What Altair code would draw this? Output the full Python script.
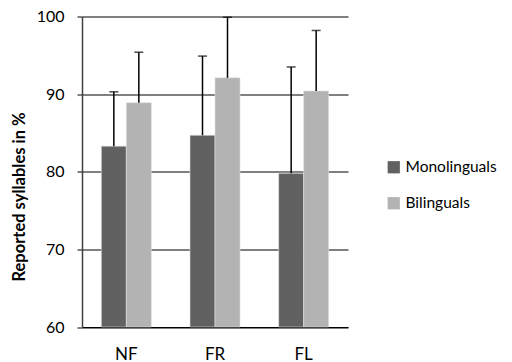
import altair as alt
import pandas as pd

categories = ["NF", "FR", "FL"]
groups = ["Monolinguals", "Bilinguals"]
mono_values = [83.3, 84.7, 79.8]
bili_values = [88.9, 92.1, 90.4]
mono_err_top = [90.3, 94.9, 93.5]
bili_err_top = [95.4, 99.9, 98.2]
y_ticks = [60, 70, 80, 90, 100]
y_min, y_max = 60, 100

rows = []
for i, c in enumerate(categories):
    rows.append({"cat": c, "grp": groups[0], "val": mono_values[i], "top": mono_err_top[i]})
    rows.append({"cat": c, "grp": groups[1], "val": bili_values[i], "top": bili_err_top[i]})
df = pd.DataFrame(rows)

FONT = "Lato"

xaxis = alt.Axis(labelAngle=0, ticks=False, domain=True, domainColor="#000000",
                 labelFontSize=17, labelFont=FONT, labelColor="#000000", labelPadding=19)
x = alt.X("cat:N", sort=categories, title=None,
          scale=alt.Scale(paddingInner=0.436, paddingOuter=0.218), axis=xaxis)
xoff = alt.XOffset("grp:N", sort=groups, scale=alt.Scale(paddingInner=0, paddingOuter=0))
y = alt.Y("val:Q", scale=alt.Scale(domain=[y_min, y_max], nice=False, zero=False),
          axis=alt.Axis(values=y_ticks, title="Reported syllables in %", titleFont=FONT,
                        titleFontSize=16.5, titleFontWeight="bold", titleColor="#000000",
                        titleX=-63, titleY=180, titleBaseline="middle", titleAngle=270,
                        labelFont=FONT, labelFontSize=16, labelColor="#000000",
                        grid=True, gridColor="#000000", gridWidth=1, tickSize=5,
                        tickColor="#000000", domainColor="#404040", domainWidth=1.5,
                        labelPadding=13))

bars = alt.Chart(df).mark_bar(stroke="#e0e0e0", strokeWidth=0.6).encode(
    x=x, xOffset=xoff, y=y, y2=alt.datum(y_min),
    color=alt.Color("grp:N", sort=groups,
                    scale=alt.Scale(domain=groups, range=["#616161", "#b3b3b3"]),
                    legend=alt.Legend(title=None, orient="none", legendX=304, legendY=143,
                                      symbolType="square", symbolSize=150, symbolStrokeWidth=0,
                                      labelFont=FONT, labelFontSize=15.5, labelColor="#000000",
                                      labelLimit=200, rowPadding=19, labelOffset=4))
)

err = alt.Chart(df).mark_rule(color="#000000", strokeWidth=1.5).encode(
    x=x, xOffset=xoff,
    y=alt.Y("val:Q"), y2="top:Q"
)
caps = alt.Chart(df).mark_tick(color="#000000", thickness=1.5, size=9, orient="horizontal").encode(
    x=x, xOffset=xoff, y=alt.Y("top:Q")
)

chart = alt.layer(bars, err, caps).properties(
    width=266, height=310.5,
    autosize=alt.AutoSizeParams(type="none"),
    padding={"left": 74, "top": 8.5, "right": 156, "bottom": 35},
    background="#ffffff"
).configure_view(stroke=None)

chart.save("out.html", embed_options={"renderer": "svg", "actions": False})
